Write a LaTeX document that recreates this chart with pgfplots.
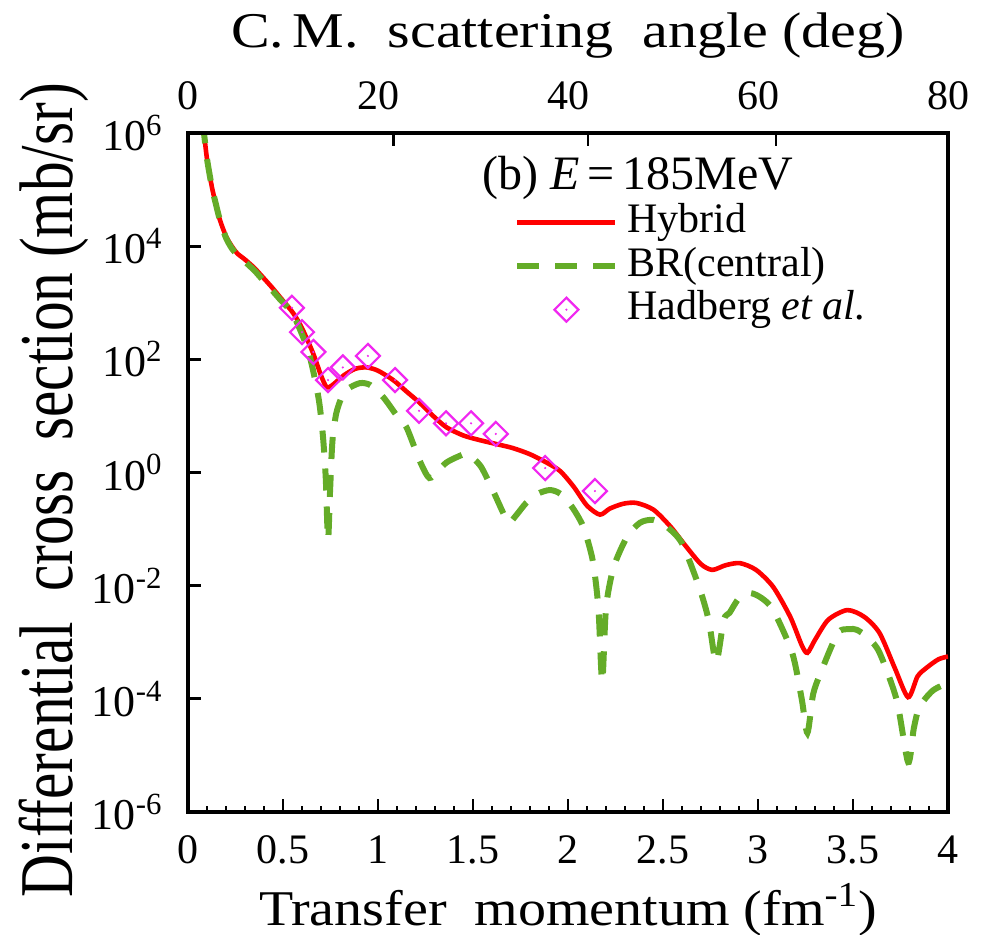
\documentclass[border=0pt]{standalone}
\usepackage{fontspec}
\setmainfont{Liberation Serif}
\newfontfamily\condfont{Liberation Serif}[FakeStretch=0.78]
\newfontfamily\widefont{Liberation Serif}[FakeStretch=1.12]
\newfontfamily\widerfont{Liberation Serif}[FakeStretch=1.16]
\usepackage{pgfplots}
\pgfplotsset{compat=1.18}
\definecolor{hyb}{RGB}{255,0,0}
\definecolor{brc}{RGB}{100,172,40}
\definecolor{hadb}{RGB}{240,40,240}
\pgfdeclareplotmark{ddiamond}{%
  \pgfpathmoveto{\pgfqpoint{0pt}{\pgfplotmarksize}}%
  \pgfpathlineto{\pgfqpoint{\pgfplotmarksize}{0pt}}%
  \pgfpathlineto{\pgfqpoint{0pt}{-\pgfplotmarksize}}%
  \pgfpathlineto{\pgfqpoint{-\pgfplotmarksize}{0pt}}%
  \pgfpathclose
  \pgfusepathqstroke
  \pgfpathcircle{\pgfpointorigin}{0.6pt}%
  \pgfusepathqfill
}
\pgfplotsset{
  lineleg/.style={legend image code/.code={\draw[##1] (0pt,0pt) -- (49pt,0pt);}},
  markleg/.style={legend image code/.code={\draw[##1] plot coordinates {(24.5pt,0pt)};}},
}
\begin{document}
\begin{tikzpicture}
\useasboundingbox (-94pt,-61.5pt) rectangle (399pt,406pt);
\begin{axis}[
  at={(0pt,0pt)}, anchor=south west,
  width=380pt, height=339.5pt, scale only axis,
  xmin=0, xmax=4, ymin=1e-6, ymax=1e6, ymode=log,
  axis line style={line width=2pt},
  every tick/.style={black, line width=1.4pt},
  tick align=inside,
  major tick length=6.5pt, minor tick length=3pt,
  xtick={0,0.5,1,1.5,2,2.5,3,3.5,4},
  minor x tick num=4,
  xtick pos=bottom, ytick pos=left,
  ytick={1e-6,1e-4,1e-2,1,1e2,1e4,1e6},
  yticklabels={10\textsuperscript{-6},10\textsuperscript{-4},10\textsuperscript{-2},10\textsuperscript{0},10\textsuperscript{2},10\textsuperscript{4},10\textsuperscript{6}},
  yminorticks=false,
  /pgf/number format/assume math mode=true,
  xticklabel style={font=\fontsize{21}{21}\selectfont, inner sep=0pt, anchor=north, yshift=-11.5pt},
  yticklabel style={font=\fontsize{22}{22}\selectfont, inner sep=0pt, anchor=east, xshift=-12.5pt},
  xlabel={Transfer\ \ momentum (fm\textsuperscript{-1})},
  xlabel style={font=\widefont\fontsize{25}{25}\selectfont, at={(axis description cs:0.5,0)}, anchor=base, yshift=-56.5pt},
  ylabel={Differential\ \ cross\ \ section (mb/sr)},
  ylabel style={font=\condfont\fontsize{38}{38}\selectfont, at={(axis description cs:0,0.474)}, anchor=center, yshift=67pt},
  legend style={draw=none, fill=none, at={(rel axis cs:0.429,0.898)}, anchor=north west,
    font=\fontsize{21}{21}\selectfont, inner sep=0pt, column sep=4.5pt, row sep=1.75pt,
    nodes={inner sep=0pt, text height=15pt, text depth=5pt}, cells={anchor=west}},
  legend cell align=left,
]
\addplot[hyb, line width=2.3pt, smooth, tension=0.45, lineleg] coordinates {
(0.075,1.6e6) (0.084,1.0e6) (0.10,3.5e5) (0.126,1.1e5) (0.15,5.0e4) (0.168,2.9e4)
(0.20,1.5e4) (0.232,9.8e3) (0.26,7.4e3) (0.30,5.8e3) (0.35,4.1e3) (0.395,2.8e3)
(0.44,1.9e3) (0.484,1.26e3) (0.553,660) (0.60,355) (0.658,129) (0.70,52)
(0.73,32) (0.76,35) (0.82,52) (0.88,68) (0.94,72) (1.00,63) (1.08,43)
(1.15,27) (1.22,17) (1.29,10) (1.36,6.3) (1.45,4.5) (1.54,3.7) (1.62,3.2)
(1.71,2.7) (1.80,2.1) (1.89,1.48) (1.96,1.05) (2.03,0.56) (2.10,0.26)
(2.168,0.18) (2.22,0.23) (2.29,0.28) (2.36,0.29) (2.45,0.22) (2.54,0.11)
(2.62,0.050) (2.70,0.024) (2.76,0.019) (2.83,0.023) (2.905,0.025) (2.99,0.019)
(3.08,0.0095) (3.17,0.0028) (3.23,0.00089) (3.26,0.00065) (3.30,0.0011)
(3.37,0.0025) (3.47,0.0037) (3.56,0.0028) (3.64,0.00145) (3.72,0.00035)
(3.79,0.000107) (3.84,0.00025) (3.89,0.00036) (3.95,0.00050) (4.00,0.00056)
};
\addlegendentry{Hybrid}
\addplot[brc, line width=3pt, dash pattern=on 11pt off 8pt, smooth, tension=0.45, lineleg] coordinates {
(0.075,1.6e6) (0.084,1.0e6) (0.10,3.5e5) (0.126,1.1e5) (0.15,5.0e4) (0.168,2.9e4)
(0.20,1.4e4) (0.232,9.0e3) (0.26,7.0e3) (0.30,5.3e3) (0.35,3.7e3) (0.395,2.5e3)
(0.44,1.7e3) (0.484,1.15e3) (0.553,620) (0.626,166) (0.66,60) (0.69,18)
(0.71,4.5) (0.725,0.8) (0.737,0.065) (0.748,0.5) (0.76,3.5) (0.78,11)
(0.81,22) (0.84,30) (0.905,38) (0.96,35) (1.03,21) (1.10,10) (1.15,6.3)
(1.22,1.6) (1.27,0.8) (1.32,1.1) (1.36,1.5) (1.42,1.9) (1.47,2.1) (1.54,1.3)
(1.61,0.44) (1.66,0.19) (1.69,0.13) (1.73,0.18) (1.78,0.29) (1.84,0.42)
(1.905,0.49) (1.96,0.42) (2.02,0.25) (2.08,0.11) (2.13,0.028) (2.16,0.004)
(2.18,0.0002) (2.20,0.004) (2.24,0.021) (2.31,0.072) (2.38,0.13) (2.45,0.145)
(2.52,0.11) (2.60,0.056) (2.69,0.0095) (2.74,0.0025) (2.78,0.00045) (2.82,0.0025)
(2.85,0.0033) (2.90,0.0060) (2.96,0.0074) (3.02,0.0060) (3.08,0.0037)
(3.18,0.00065) (3.23,0.00010) (3.26,0.000025) (3.29,0.00012) (3.33,0.00029)
(3.42,0.00145) (3.48,0.0017) (3.52,0.00166) (3.58,0.0012) (3.64,0.00065)
(3.73,0.000095) (3.79,0.0000076) (3.82,0.00003) (3.85,0.000072) (3.92,0.00014)
(4.00,0.00019)
};
\addlegendentry{BR(central)}
\addplot[hadb, only marks, mark=ddiamond, mark size=6pt, mark options={line width=1.1pt, fill=hadb}, markleg] coordinates {
(0.547,815) (0.60,302) (0.66,135) (0.737,43) (0.815,72) (0.947,115) (1.09,43)
(1.216,12.3) (1.358,7.4) (1.49,7.4) (1.62,4.8) (1.88,1.2) (2.142,0.47)
};
\addlegendentry{Hadberg \textit{et al.}}
\node[anchor=base west, inner sep=0pt, font=\fontsize{24}{24}\selectfont] at (rel axis cs:0.387,0.917) {(b) \textit{E}\,=\,185MeV};
\end{axis}
\begin{axis}[
  at={(0pt,0pt)}, anchor=south west,
  width=380pt, height=339.5pt, scale only axis,
  xmin=0, xmax=4, ymin=0, ymax=1,
  axis x line*=top, hide y axis,
  axis line style={line width=2pt},
  every tick/.style={black, line width=1.4pt},
  tick align=inside, major tick length=6.5pt,
  xtick={1.08,2.105,3.095}, xticklabels={},
  extra x ticks={0,1,2,3,4}, extra x tick labels={0,20,40,60,80},
  extra x tick style={major tick length=0pt},
  /pgf/number format/assume math mode=true,
  xticklabel style={font=\fontsize{21}{21}\selectfont, inner sep=0pt, anchor=south, yshift=11.5pt},
  xlabel={C.\,M.\ \ scattering\ \ angle (deg)},
  xlabel style={font=\widerfont\fontsize{25}{25}\selectfont, at={(axis description cs:0.5,1)}, anchor=base, yshift=42.5pt},
]
\end{axis}
\end{tikzpicture}
\end{document}
